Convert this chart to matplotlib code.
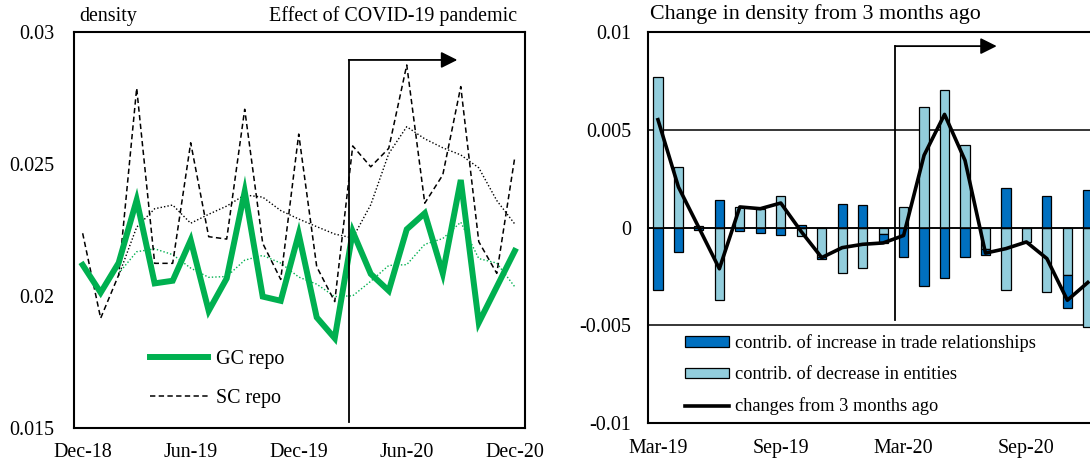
import numpy as np
import matplotlib
matplotlib.use('Agg')
import matplotlib.pyplot as plt
from matplotlib.lines import Line2D
from matplotlib.patches import Patch

plt.rcParams['font.family'] = ['Liberation Serif', 'DejaVu Serif']

# ---- left panel: density of repo networks, monthly Dec-18 .. Dec-20
months_left = ['Dec-18', 'Jan-19', 'Feb-19', 'Mar-19', 'Apr-19', 'May-19', 'Jun-19',
               'Jul-19', 'Aug-19', 'Sep-19', 'Oct-19', 'Nov-19', 'Dec-19',
               'Jan-20', 'Feb-20', 'Mar-20', 'Apr-20', 'May-20', 'Jun-20',
               'Jul-20', 'Aug-20', 'Sep-20', 'Oct-20', 'Nov-20', 'Dec-20']
gc_repo = [0.02117, 0.02012, 0.02125, 0.02363, 0.02047, 0.02057, 0.02211,
           0.01943, 0.02066, 0.02395, 0.01997, 0.01981, 0.02234,
           0.01918, 0.01839, 0.02243, 0.02083, 0.02019, 0.02252,
           0.02313, 0.02085, 0.02439, 0.01898, 0.02034, 0.02170]
sc_repo = [0.02237, 0.01915, 0.02079, 0.02787, 0.02123, 0.02123, 0.02580,
           0.02224, 0.02215, 0.02707, 0.02199, 0.02062, 0.02613,
           0.02110, 0.01978, 0.02568, 0.02489, 0.02559, 0.02875,
           0.02351, 0.02458, 0.02793, 0.02205, 0.02085, 0.02525]
# dotted trend lines (3-month moving averages as drawn)
gc_trend = [np.nan, np.nan, 0.02085, 0.02167, 0.02178, 0.02156, 0.02105,
            0.02070, 0.02073, 0.02135, 0.02153, 0.02124, 0.02071,
            0.02044, 0.01997, 0.02000, 0.02055, 0.02115, 0.02118,
            0.02195, 0.02217, 0.02279, 0.02141, 0.02124, 0.02034]
sc_trend = [np.nan, np.nan, 0.02077, 0.02260, 0.02330, 0.02344, 0.02275,
            0.02309, 0.02340, 0.02382, 0.02374, 0.02323, 0.02291,
            0.02262, 0.02234, 0.02219, 0.02345, 0.02539, 0.02641,
            0.02595, 0.02561, 0.02534, 0.02485, 0.02361, 0.02272]
left_ticks = ['Dec-18', 'Jun-19', 'Dec-19', 'Jun-20', 'Dec-20']
left_yticks = [0.015, 0.02, 0.025, 0.03]
left_ylabels = ['0.015', '0.02', '0.025', '0.03']

# ---- right panel: change in density from 3 months ago, Mar-19 .. Dec-20
months_right = ['Mar-19', 'Apr-19', 'May-19', 'Jun-19', 'Jul-19', 'Aug-19',
                'Sep-19', 'Oct-19', 'Nov-19', 'Dec-19', 'Jan-20', 'Feb-20',
                'Mar-20', 'Apr-20', 'May-20', 'Jun-20', 'Jul-20', 'Aug-20',
                'Sep-20', 'Oct-20', 'Nov-20', 'Dec-20']
trade_contrib = [-0.00317, -0.00124, -0.00010, 0.00140, -0.00019, -0.00027,
                 -0.00036, 0.00016, -0.00012, 0.00123, 0.00114, -0.00048,
                 -0.00150, -0.00300, -0.00256, -0.00150, -0.00034, 0.00203,
                 0.00000, 0.00160, -0.00169, 0.00194]
entity_contrib = [0.00770, 0.00310, 0.00010, -0.00371, 0.00106, 0.00097,
                  0.00160, -0.00045, -0.00150, -0.00230, -0.00204, -0.00030,
                  0.00106, 0.00617, 0.00705, 0.00424, -0.00107, -0.00320,
                  -0.00073, -0.00329, -0.00240, -0.00510]
change_3m = [0.00552, 0.00208, 0.00000, -0.00210, 0.00106, 0.00097,
             0.00126, -0.00020, -0.00153, -0.00102, -0.00085, -0.00078,
             -0.00040, 0.00370, 0.00579, 0.00344, -0.00130, -0.00107,
             -0.00073, -0.00158, -0.00371, -0.00280]
right_ticks = ['Mar-19', 'Sep-19', 'Mar-20', 'Sep-20']
right_yticks = [-0.01, -0.005, 0, 0.005, 0.01]
right_ylabels = ['-0.01', '-0.005', '0', '0.005', '0.01']

GREEN = '#00B050'
DARK_BLUE = '#0070C0'
LIGHT_BLUE = '#92CDDC'
FS = 14.4

fig = plt.figure(figsize=(10.9, 4.69), dpi=100)
ax1 = fig.add_axes([0.0679, 0.0881, 0.4138, 0.8437])
ax2 = fig.add_axes([0.5948, 0.0974, 0.4126, 0.8343])

# ---------------- left
x1 = np.arange(len(months_left))
ax1.plot(x1, sc_trend, color='black', lw=1.0, ls=(0, (1, 1.5)))
ax1.plot(x1, gc_trend, color=GREEN, lw=1.0, ls=(0, (1, 1.5)))
ax1.plot(x1, sc_repo, color='black', lw=1.1, ls=(0, (3.5, 2.2)))
ax1.plot(x1, gc_repo, color=GREEN, lw=4.3, solid_joinstyle='miter')

ax1.set_xlim(-0.48, 24.57)
ax1.set_ylim(0.015, 0.03)
ax1.set_xticks([months_left.index(m) for m in left_ticks])
ax1.set_xticklabels(left_ticks, fontsize=FS)
ax1.set_yticks(left_yticks)
ax1.set_yticklabels(left_ylabels, fontsize=FS)
ax1.tick_params(length=0)
ax1.tick_params(axis='y', pad=14)
ax1.tick_params(axis='x', pad=11)
for s in ax1.spines.values():
    s.set_linewidth(1.5)

# covid marker
covid_l = 14.78
ax1.plot([covid_l, covid_l], [0.01523, 0.02894], color='black', lw=1.3)
ax1.annotate('', xy=(20.81, 0.02894), xytext=(covid_l, 0.02894),
             arrowprops=dict(arrowstyle='-|>,head_length=0.7,head_width=0.35',
                             color='black', lw=1.3, shrinkA=0, shrinkB=0,
                             mutation_scale=14))

fig.text(79 / 1090, 1 - 16 / 469, 'density', fontsize=FS, va='center', ha='left')
fig.text(517 / 1090, 1 - 16 / 469, 'Effect of COVID-19 pandemic', fontsize=FS,
         va='center', ha='right')

h1 = [Line2D([], [], color=GREEN, lw=4.3), Line2D([], [], color='black', lw=1.1, ls=(0, (3.5, 2.2)))]
ax1.legend(h1, ['GC repo', 'SC repo'], loc='center left', bbox_to_anchor=(0.168, 0.1226),
           frameon=False, fontsize=FS, borderpad=0, borderaxespad=0,
           handlelength=2.9, handletextpad=0.4, labelspacing=1.0)

# ---------------- right
x2 = np.arange(len(months_right))
trade = np.array(trade_contrib)
entity = np.array(entity_contrib)
# stacking: entities sit next to zero, trade stacked on top when same sign
trade_bottom = np.where(np.sign(trade) == np.sign(entity), entity, 0.0)

ax2.set_axisbelow(True)
ax2.grid(axis='y', color='black', lw=1.1)
ax2.bar(x2, entity, width=0.45, color=LIGHT_BLUE, edgecolor='black', lw=0.9, zorder=2)
ax2.bar(x2, trade, bottom=trade_bottom, width=0.45, color=DARK_BLUE, edgecolor='black', lw=0.9, zorder=2)
ax2.axhline(0, color='black', lw=1.1, zorder=2.5)
ax2.plot(x2, change_3m, color='black', lw=2.6, zorder=3)

ax2.set_xlim(-0.47, 21.5)
ax2.set_ylim(-0.01, 0.01)
ax2.set_xticks([months_right.index(m) for m in right_ticks])
ax2.set_xticklabels(right_ticks, fontsize=FS)
ax2.set_yticks(right_yticks)
ax2.set_yticklabels(right_ylabels, fontsize=FS)
ax2.tick_params(length=0)
ax2.tick_params(axis='y', pad=12.5)
ax2.tick_params(axis='x', pad=11)
for s in ax2.spines.values():
    s.set_linewidth(1.5)

covid_r = 11.58
ax2.plot([covid_r, covid_r], [-0.00472, 0.00928], color='black', lw=1.3, zorder=4)
ax2.annotate('', xy=(16.55, 0.00928), xytext=(covid_r, 0.00928),
             arrowprops=dict(arrowstyle='-|>,head_length=0.7,head_width=0.35',
                             color='black', lw=1.3, shrinkA=0, shrinkB=0,
                             mutation_scale=14))

fig.text(650 / 1090, 1 - 14 / 469, 'Change in density from 3 months ago', fontsize=15.8,
         va='center', ha='left')

h2 = [Patch(facecolor=DARK_BLUE, edgecolor='black', lw=0.9),
      Patch(facecolor=LIGHT_BLUE, edgecolor='black', lw=0.9),
      Line2D([], [], color='black', lw=2.6)]
ax2.legend(h2, ['contrib. of increase in trade relationships',
                'contrib. of decrease in entities',
                'changes from 3 months ago'],
           loc='center left', bbox_to_anchor=(0.0816, 0.124), frameon=False,
           fontsize=13.2, borderpad=0, borderaxespad=0, handlelength=2.4,
           handleheight=0.5, handletextpad=0.3, labelspacing=0.78)

fig.savefig('out.png', dpi=100)
